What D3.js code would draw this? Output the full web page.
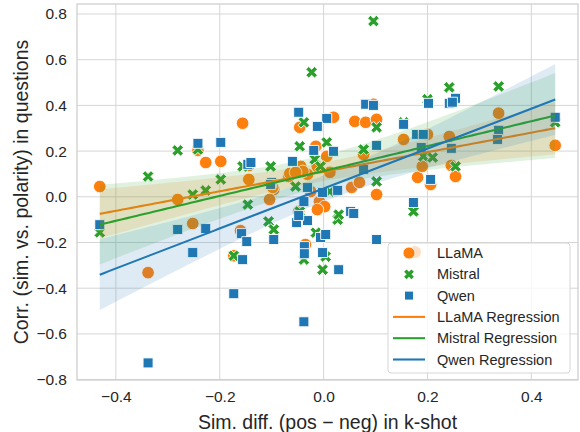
<!DOCTYPE html>
<html>
<head>
<meta charset="utf-8">
<script src="https://cdn.jsdelivr.net/npm/d3@7"></script>
<style>
body { margin: 0; background: #fff; }
svg text { font-family: "Liberation Sans", Arial, sans-serif; fill: #262626; }
</style>
</head>
<body>
<div id="chart"></div>
<script>
// points: [sim diff, corr]
const llamaPts = [
  [-0.431, 0.045], [-0.338, -0.332], [-0.156, 0.322], [-0.227, 0.150], [-0.198, 0.155],
  [-0.144, 0.076], [-0.144, 0.137], [-0.242, 0.203], [-0.281, -0.012], [-0.252, -0.117],
  [-0.160, -0.148], [-0.173, -0.258], [-0.046, 0.304], [0.019, 0.348], [0.060, 0.330],
  [0.081, 0.326], [0.102, 0.339], [0.154, 0.251], [0.200, 0.273], [0.242, 0.264],
  [0.181, 0.085], [0.206, 0.054], [0.102, 0.010], [0.054, 0.041], [0.069, 0.063],
  [0.006, 0.177], [-0.015, 0.221], [-0.067, 0.089], [-0.096, 0.032], [-0.031, 0.098],
  [-0.025, 0.023], [-0.044, 0.133], [0.012, 0.107], [0.337, 0.366], [0.246, 0.137],
  [0.254, 0.089], [0.446, 0.225], [-0.012, 0.133], [-0.040, 0.111], [-0.065, 0.102],
  [-0.098, 0.041], [-0.104, -0.012], [-0.008, -0.021], [0.002, -0.043], [-0.012, -0.056],
  [-0.048, -0.064], [-0.035, -0.209], [0.096, 0.405], [0.077, 0.185], [0.190, 0.133],
  [-0.054, 0.107]
];
const mistralPts = [
  [-0.281, 0.203], [-0.338, 0.089], [-0.242, 0.207], [-0.156, 0.133], [-0.198, 0.076],
  [-0.227, 0.028], [-0.252, 0.010], [-0.431, -0.156], [-0.146, -0.034], [-0.173, -0.258],
  [0.096, 0.769], [-0.023, 0.545], [-0.038, 0.326], [0.102, 0.304], [-0.046, 0.221],
  [0.006, 0.238], [0.077, 0.207], [-0.102, 0.133], [0.102, 0.067], [0.242, 0.479],
  [0.200, 0.427], [0.154, 0.326], [0.337, 0.483], [0.254, 0.133], [0.446, 0.326],
  [0.192, 0.177], [0.210, 0.172], [-0.106, -0.108], [-0.096, -0.143], [0.027, -0.100],
  [0.012, 0.023], [-0.054, 0.045], [-0.015, -0.157], [-0.038, -0.275], [0.004, -0.262],
  [-0.002, -0.319], [0.173, -0.064], [-0.017, 0.164], [-0.006, 0.133], [0.029, -0.078],
  [-0.046, -0.064]
];
const qwenPts = [
  [-0.242, 0.234], [-0.198, 0.238], [-0.146, 0.142], [-0.431, -0.122], [-0.281, -0.143],
  [-0.227, -0.139], [-0.252, -0.244], [-0.158, -0.161], [-0.148, -0.196], [-0.156, -0.275],
  [-0.173, -0.424], [-0.338, -0.727], [-0.048, 0.370], [0.081, 0.405], [0.096, 0.400],
  [0.202, 0.409], [0.242, 0.409], [0.006, 0.343], [-0.012, 0.308], [0.154, 0.317],
  [0.102, 0.225], [0.179, 0.273], [0.192, 0.273], [0.188, 0.216], [0.019, 0.199],
  [-0.019, 0.203], [-0.060, 0.155], [-0.100, 0.063], [-0.140, 0.150], [-0.031, 0.041],
  [-0.002, 0.019], [0.027, 0.028], [0.206, 0.076], [0.077, 0.120], [0.254, 0.431],
  [0.248, 0.414], [0.337, 0.291], [0.335, 0.251], [0.246, 0.212], [0.446, 0.348],
  [0.173, -0.025], [0.102, -0.187], [0.029, -0.319], [-0.038, -0.547], [-0.002, -0.244],
  [-0.037, -0.218], [-0.037, -0.249], [-0.096, -0.187], [-0.006, -0.178], [0.004, -0.165],
  [-0.052, -0.113], [-0.031, -0.104], [-0.048, -0.082], [0.052, -0.064], [0.058, -0.073],
  [-0.038, -0.021], [-0.102, 0.054]
];

const models = ["LLaMA", "Mistral", "Qwen"];
const colors = ["#ff7f0e", "#2ca02c", "#1f77b4"];
const allPts = [llamaPts, mistralPts, qwenPts];
const xTicks = [-0.4, -0.2, 0.0, 0.2, 0.4];
const yTicks = [-0.8, -0.6, -0.4, -0.2, 0.0, 0.2, 0.4, 0.6, 0.8];

const W = 580, H = 432;
const margin = {top: 4, right: 2, bottom: 52, left: 77};
const width = W - margin.left - margin.right;
const height = H - margin.top - margin.bottom;

const svg = d3.select("#chart").append("svg")
    .attr("width", W).attr("height", H);
const g = svg.append("g").attr("transform", `translate(${margin.left},${margin.top})`);

// matplotlib-like 5% padding
const flat = allPts.flat();
const xExt = d3.extent(flat, d => d[0]);
const yExt = d3.extent(flat, d => d[1]);
const padX = (xExt[1] - xExt[0]) * 0.05, padY = (yExt[1] - yExt[0]) * 0.05;
const x = d3.scaleLinear().domain([xExt[0] - padX, xExt[1] + padX]).range([0, width]);
const y = d3.scaleLinear().domain([yExt[0] - padY, yExt[1] + padY]).range([height, 0]);

const fmt = v => d3.format(".1f")(v).replace("-", "\u2212");

// grid
g.append("g").selectAll("line").data(xTicks).join("line")
    .attr("x1", d => x(d)).attr("x2", d => x(d)).attr("y1", 0).attr("y2", height)
    .attr("stroke", "#d6d6d6").attr("stroke-width", 1);
g.append("g").selectAll("line").data(yTicks).join("line")
    .attr("y1", d => y(d)).attr("y2", d => y(d)).attr("x1", 0).attr("x2", width)
    .attr("stroke", "#d6d6d6").attr("stroke-width", 1);

const xAxis = g.append("g").attr("transform", `translate(0,${height})`)
    .call(d3.axisBottom(x).tickValues(xTicks).tickFormat(fmt).tickSize(0).tickPadding(11));
const yAxis = g.append("g")
    .call(d3.axisLeft(y).tickValues(yTicks).tickFormat(fmt).tickSize(0).tickPadding(10));
[xAxis, yAxis].forEach(a => {
    a.select(".domain").remove();
    a.selectAll("text").attr("font-size", 15.5).attr("fill", "#262626")
        .style("font-family", '"Liberation Sans", Arial, sans-serif');
});

g.append("rect").attr("width", width).attr("height", height)
    .attr("fill", "none").attr("stroke", "#cccccc").attr("stroke-width", 1.2);

// scatter
const shapes = [
    d3.symbol().type(d3.symbolCircle).size(125),
    d3.symbol().type(d3.symbolCross).size(85),
    d3.symbol().type(d3.symbolSquare).size(100)
];
allPts.forEach((pts, i) => {
    g.append("g").selectAll("path").data(pts).join("path")
        .attr("d", shapes[i]())
        .attr("transform", d => `translate(${x(d[0])},${y(d[1])})` + (i === 1 ? " rotate(45)" : ""))
        .attr("fill", colors[i]).attr("stroke", "#fff").attr("stroke-width", 0.9);
});

// regression with 95% band
function fit(pts) {
    const n = pts.length;
    const mx = d3.mean(pts, d => d[0]), my = d3.mean(pts, d => d[1]);
    let sxx = 0, sxy = 0;
    pts.forEach(d => { sxx += (d[0] - mx) ** 2; sxy += (d[0] - mx) * (d[1] - my); });
    const b = sxy / sxx, a = my - b * mx;
    let sse = 0;
    pts.forEach(d => { sse += (d[1] - a - b * d[0]) ** 2; });
    const s = Math.sqrt(sse / (n - 2));
    const [x0, x1] = d3.extent(pts, d => d[0]);
    const out = [];
    for (let k = 0; k <= 100; k++) {
        const xv = x0 + (x1 - x0) * k / 100;
        const yh = a + b * xv;
        const ci = 2.0 * s * Math.sqrt(1 / n + (xv - mx) ** 2 / sxx);
        out.push({x: xv, y: yh, lo: yh - ci, hi: yh + ci});
    }
    return out;
}
const area = d3.area().x(d => x(d.x)).y0(d => y(d.lo)).y1(d => y(d.hi));
const line = d3.line().x(d => x(d.x)).y(d => y(d.y));
allPts.forEach((pts, i) => {
    const r = fit(pts);
    g.append("path").datum(r).attr("d", area).attr("fill", colors[i]).attr("fill-opacity", 0.15);
    g.append("path").datum(r).attr("d", line).attr("fill", "none")
        .attr("stroke", colors[i]).attr("stroke-width", 2.1);
});

// labels
svg.append("text").attr("x", margin.left + width / 2).attr("y", 429)
    .attr("text-anchor", "middle").attr("font-size", 19.5)
    .text("Sim. diff. (pos \u2212 neg) in k-shot");
svg.append("text")
    .attr("transform", `translate(28,${margin.top + height / 2}) rotate(-90)`)
    .attr("text-anchor", "middle").attr("font-size", 19.5)
    .text("Corr. (sim. vs. polarity) in questions");

// legend
const lg = svg.append("g").attr("transform", "translate(388,243)");
lg.append("rect").attr("width", 182).attr("height", 130).attr("rx", 3)
    .attr("fill", "#fff").attr("fill-opacity", 0.8).attr("stroke", "#d6d6d6");
const legendLabels = models.concat(models.map(m => m + " Regression"));
legendLabels.forEach((lab, k) => {
    const yy = 10 + k * 21.3;
    const row = lg.append("g").attr("transform", `translate(0,${yy})`);
    const c = colors[k % 3];
    if (k === 0) {
        row.append("circle").attr("cx", 27).attr("cy", -1).attr("r", 6).attr("fill", c).attr("opacity", 0.25);
        row.append("circle").attr("cx", 21).attr("cy", 0).attr("r", 6).attr("fill", c).attr("stroke", "#fff").attr("stroke-width", 0.8);
    } else if (k === 1) {
        row.append("path").attr("d", d3.symbol().type(d3.symbolCross).size(60)())
            .attr("transform", "translate(21,0) rotate(45)").attr("fill", c);
    } else if (k === 2) {
        row.append("path").attr("d", d3.symbol().type(d3.symbolSquare).size(64)())
            .attr("transform", "translate(21,0)").attr("fill", c);
    } else {
        row.append("line").attr("x1", 5).attr("x2", 37).attr("y1", 0).attr("y2", 0)
            .attr("stroke", c).attr("stroke-width", 2.1);
    }
    row.append("text").attr("x", 49).attr("y", 0).attr("dy", "0.35em")
        .attr("font-size", 14.5).text(lab);
});
</script>
</body>
</html>
